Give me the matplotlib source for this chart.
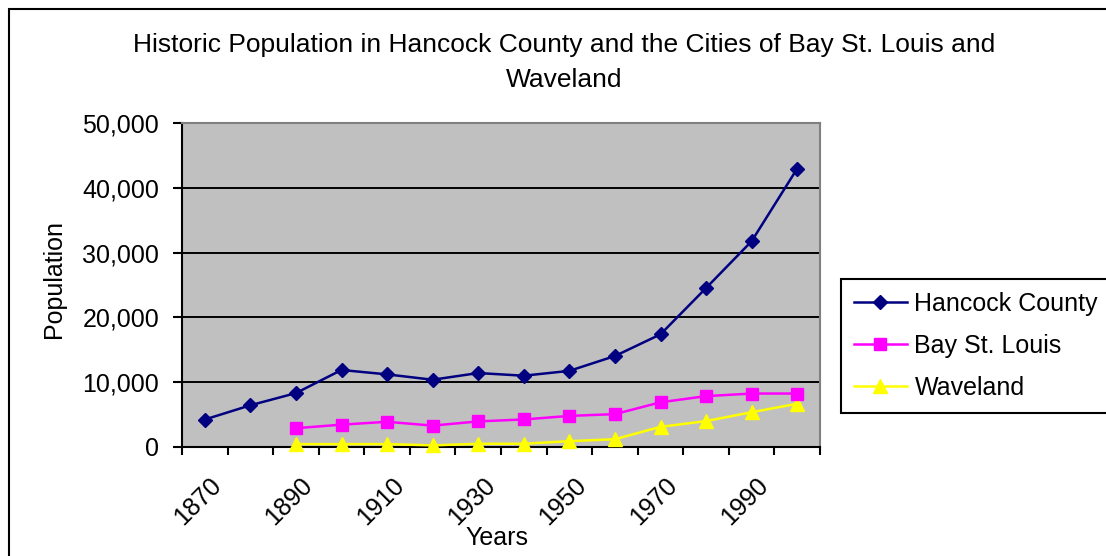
import numpy as np
import matplotlib
matplotlib.use('Agg')
import matplotlib.pyplot as plt
import matplotlib.transforms as mtransforms
from matplotlib.patches import Rectangle
from matplotlib.ticker import FuncFormatter

plt.rcParams['font.family'] = ['Liberation Sans', 'DejaVu Sans']

# census years (one category per decade)
years = [1870, 1880, 1890, 1900, 1910, 1920, 1930,
         1940, 1950, 1960, 1970, 1980, 1990, 2000]

hancock = [4239, 6439, 8318, 11886, 11207, 10380, 11415,
           11000, 11750, 14039, 17387, 24537, 31760, 42967]
bay_st_louis = [None, None, 2900, 3450, 3890, 3300, 3950,
                4250, 4800, 5073, 6900, 7850, 8250, 8250]
waveland = [None, None, 450, 450, 450, 250, 500,
            500, 900, 1200, 3108, 4000, 5369, 6674]

series_names = ['Hancock County', 'Bay St. Louis', 'Waveland']

hancock = np.array(hancock, dtype=float)
bay_st_louis = np.array(bay_st_louis, dtype=float)
waveland = np.array(waveland, dtype=float)
x = np.arange(len(years))

fig = plt.figure(figsize=(11.06, 5.56), dpi=100)
ax = fig.add_axes([182/1106, 1 - 447/556, (820 - 182)/1106, (447 - 123)/556])
ax.set_facecolor('#C0C0C0')

ax.plot(x, hancock, color='#000080', lw=1.8, marker='D', ms=7,
        label=series_names[0], clip_on=False, zorder=5)
ax.plot(x, bay_st_louis, color='#FF00FF', lw=1.8, marker='s', ms=8.5,
        label=series_names[1], clip_on=False, zorder=4)
ax.plot(x, waveland, color='#FFFF00', lw=1.8, marker='^', ms=9.5,
        label=series_names[2], clip_on=False, zorder=3)

ax.set_xlim(-0.5, len(years) - 0.5)
ax.set_ylim(0, 50000)
ax.set_yticks(np.arange(0, 50001, 10000))
ax.yaxis.set_major_formatter(FuncFormatter(lambda v, p: '{:,.0f}'.format(v)))
ax.grid(axis='y', color='black', lw=1.4)
ax.set_axisbelow(True)

# categories: labels on every other year, tick marks between categories
ax.set_xticks(x)
ax.set_xticklabels([str(y) if i % 2 == 0 else '' for i, y in enumerate(years)])
ax.set_xticks(np.arange(-0.5, len(years)), minor=True)
ax.tick_params(axis='x', which='major', length=0, pad=25, labelsize=18)
ax.tick_params(axis='x', which='minor', length=6, width=1.5, direction='out')
ax.tick_params(axis='y', length=6.5, width=1.5, direction='out', pad=10, labelsize=18)

offset = mtransforms.ScaledTranslation(13/100, 0, fig.dpi_scale_trans)
for lab in ax.get_xticklabels():
    lab.set_rotation(45)
    lab.set_rotation_mode('anchor')
    lab.set_ha('right')
    lab.set_va('center')
    lab.set_transform(lab.get_transform() + offset)

for s in ['left', 'bottom']:
    ax.spines[s].set_color('black')
    ax.spines[s].set_linewidth(1.5)
for s in ['top', 'right']:
    ax.spines[s].set_color('#808080')
    ax.spines[s].set_linewidth(1.5)

ax.set_xlabel('Years', fontsize=18)
ax.xaxis.set_label_coords(0.494, -0.245)
ax.set_ylabel('Population', fontsize=18)
ax.yaxis.set_label_coords(-0.182, 0.52)

fig.text(564.5/1106, 1 - 62.5/556,
         'Historic Population in Hancock County and the Cities of Bay St. Louis and\nWaveland',
         ha='center', va='center', fontsize=19, linespacing=1.55)

leg = ax.legend(loc='upper left', bbox_to_anchor=(841/1106, 1 - 279/556),
                bbox_transform=fig.transFigure, borderaxespad=0, fontsize=18,
                frameon=True, fancybox=False, edgecolor='black', framealpha=1,
                handlelength=2.1, handletextpad=0.32, borderpad=0.52, labelspacing=0.72)
leg.get_frame().set_linewidth(1.5)

# chart area border
fig.patches.append(Rectangle((9/1106, -0.5), 2, 1.5 - 9/556, transform=fig.transFigure,
                             fill=False, edgecolor='black', lw=1.5, figure=fig))

fig.savefig('out.png', dpi=100)
